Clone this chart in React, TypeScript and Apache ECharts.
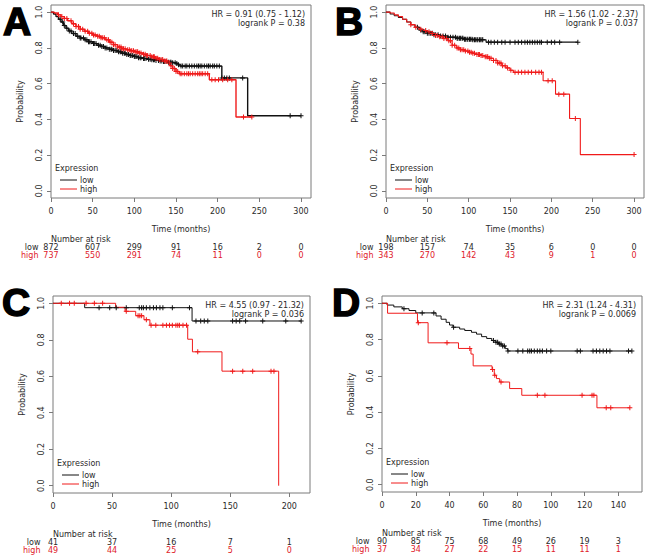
import React, { useEffect, useRef } from "react";
import * as echarts from "echarts";

const FONT = "DejaVu Sans";
const TEXT = "#2a2a2a";
const FRAME = "#7a7a7a";
const BLACK = "#111111";
const RED = "#f01a1a";
const RED_TEXT = "#e0202a";

const yTicks = [0, 0.2, 0.4, 0.6, 0.8, 1.0];

// ---------- Panel A ----------
const aTicks = [0, 50, 100, 150, 200, 250, 300];
const aLowCurve: [number, number][] = [
  [0, 1.0], [3, 0.99], [6, 0.975], [9, 0.96], [12, 0.945], [15, 0.925], [18, 0.91], [21, 0.895],
  [25, 0.88], [30, 0.865], [35, 0.855], [40, 0.845], [45, 0.835], [50, 0.825], [55, 0.815],
  [60, 0.808], [65, 0.8], [70, 0.793], [75, 0.785], [80, 0.778], [85, 0.77], [90, 0.763],
  [95, 0.757], [100, 0.752], [105, 0.745], [110, 0.74], [115, 0.736], [120, 0.733], [125, 0.73],
  [130, 0.727], [135, 0.724], [140, 0.72], [145, 0.717], [150, 0.712], [153, 0.705], [155, 0.698],
  [205, 0.632], [236, 0.42], [300, 0.42],
];
const aHighCurve: [number, number][] = [
  [0, 1.0], [4, 0.995], [8, 0.985], [12, 0.975], [16, 0.965], [20, 0.952], [25, 0.935], [30, 0.92],
  [35, 0.905], [40, 0.893], [45, 0.882], [50, 0.872], [55, 0.865], [60, 0.857], [65, 0.845],
  [70, 0.832], [75, 0.818], [80, 0.805], [85, 0.795], [90, 0.79], [95, 0.784], [100, 0.778],
  [105, 0.772], [110, 0.765], [115, 0.758], [120, 0.75], [125, 0.742], [130, 0.735], [135, 0.727],
  [140, 0.715], [143, 0.7], [146, 0.685], [150, 0.668], [154, 0.655], [190, 0.622], [222, 0.413],
  [241, 0.413],
];
const aLowCensor = [
  11, 14, 16, 19, 22, 24, 27, 29, 32, 35, 36, 39, 41, 43, 45, 46, 48, 51, 52, 54, 57, 59, 61, 63,
  65, 67, 70, 72, 73, 75, 77, 79, 81, 83, 84, 86, 88, 89, 91, 93, 95, 96, 98, 100, 101, 103, 105,
  107, 108, 111, 112, 114, 117, 119, 121, 123, 124, 126, 129, 131, 133, 135, 136, 138, 141, 143,
  144, 146, 149, 151, 153, 156, 158, 161, 163, 166, 169, 172, 175, 177, 179, 181, 184, 187, 189,
  191, 194, 196, 199, 202, 205, 208, 211, 214, 230, 287, 300,
];
const aHighCensor = [
  9, 13, 16, 19, 24, 27, 30, 33, 35, 38, 41, 44, 46, 49, 51, 53, 56, 58, 60, 62, 64, 67, 69, 71,
  73, 75, 77, 80, 82, 84, 85, 87, 89, 92, 94, 96, 97, 99, 101, 103, 104, 106, 108, 111, 113, 115,
  116, 119, 121, 123, 124, 126, 128, 130, 132, 134, 136, 138, 139, 142, 144, 146, 148, 150, 152,
  155, 157, 160, 163, 165, 167, 170, 173, 176, 178, 180, 182, 185, 188, 193, 197, 201, 206, 212,
  217, 231, 241,
];
const aRiskLow = [872, 607, 299, 91, 16, 2, 0];
const aRiskHigh = [737, 550, 291, 74, 11, 0, 0];
const aStats = ["HR = 0.91 (0.75 - 1.12)", "logrank P = 0.38"];

// ---------- Panel B ----------
const bTicks = [0, 50, 100, 150, 200, 250, 300];
const bLowCurve: [number, number][] = [
  [0, 1.0], [5, 0.99], [10, 0.98], [15, 0.97], [20, 0.96], [25, 0.945], [30, 0.93], [35, 0.915],
  [40, 0.9], [45, 0.89], [50, 0.882], [58, 0.873], [65, 0.866], [75, 0.86], [85, 0.854],
  [95, 0.848], [105, 0.845], [121, 0.832], [232, 0.832],
];
const bHighCurve: [number, number][] = [
  [0, 1.0], [5, 0.995], [10, 0.985], [15, 0.975], [20, 0.96], [25, 0.945], [30, 0.93], [35, 0.915],
  [40, 0.905], [45, 0.897], [50, 0.89], [55, 0.88], [60, 0.87], [65, 0.862], [70, 0.852],
  [75, 0.84], [80, 0.815], [85, 0.8], [90, 0.79], [95, 0.783], [100, 0.776], [105, 0.77],
  [110, 0.763], [115, 0.757], [120, 0.75], [125, 0.742], [130, 0.73], [135, 0.715], [140, 0.7],
  [145, 0.688], [150, 0.675], [154, 0.663], [190, 0.616], [205, 0.541], [222, 0.405],
  [235, 0.203], [300, 0.203],
];
const bLowCensor = [
  38, 42, 45, 47, 50, 52, 54, 56, 58, 60, 63, 66, 69, 72, 75, 78, 81, 84, 86, 87, 89, 90, 92, 93,
  95, 96, 98, 99, 101, 102, 104, 105, 107, 108, 110, 111, 113, 114, 116, 117, 124, 127, 131, 135,
  140, 144, 150, 156, 160, 164, 168, 171, 174, 177, 180, 183, 186, 188, 195, 200, 204, 210, 232,
];
const bHighCensor = [
  30, 36, 42, 48, 52, 56, 60, 62, 65, 68, 70, 73, 76, 78, 80, 83, 86, 88, 90, 92, 94, 96, 99, 101,
  103, 105, 107, 110, 112, 113, 115, 117, 120, 122, 123, 125, 127, 130, 133, 135, 137, 139, 141,
  144, 147, 151, 156, 160, 164, 168, 172, 176, 181, 185, 188, 196, 201, 209, 215, 229, 300,
];
const bRiskLow = [198, 157, 74, 35, 6, 0, 0];
const bRiskHigh = [343, 270, 142, 43, 9, 1, 0];
const bStats = ["HR = 1.56 (1.02 - 2.37)", "logrank P = 0.037"];

// ---------- Panel C ----------
const cTicks = [0, 50, 100, 150, 200];
const cLowCurve: [number, number][] = [
  [0, 1.0], [26.8, 0.976], [117.7, 0.903], [210, 0.903],
];
const cHighCurve: [number, number][] = [
  [0, 1.0], [53, 0.978], [61, 0.956], [70, 0.932], [77, 0.91], [82, 0.88], [114, 0.803],
  [118, 0.734], [143, 0.628], [191, 0.0],
];
const cLowCensor = [
  39, 48, 53.5, 62, 73, 75, 76.5, 79, 82, 85, 87.5, 90.5, 93, 101, 115.5, 121, 125, 128, 131, 152,
  155, 158, 163, 177.5, 197, 210,
];
const cHighCensor = [
  7, 14, 18, 28, 35, 42, 62, 72, 73.5, 75, 79, 83, 87, 93, 96, 98.6, 101, 104, 105.6, 107, 110,
  113, 122.5, 152, 160.6, 169, 184.5, 187,
];
const cRiskLow = [41, 37, 16, 7, 1];
const cRiskHigh = [49, 44, 25, 5, 0];
const cStats = ["HR = 4.55 (0.97 - 21.32)", "logrank P = 0.036"];

// ---------- Panel D ----------
const dTicks = [0, 20, 40, 60, 80, 100, 120, 140];
const dLowCurve: [number, number][] = [
  [0, 1.0], [3, 0.99], [7, 0.98], [12, 0.97], [16, 0.96], [20, 0.947], [32, 0.93], [35, 0.912],
  [38, 0.895], [40, 0.88], [42, 0.868], [46, 0.858], [49, 0.85], [53, 0.84], [56, 0.83],
  [59, 0.816], [62, 0.806], [65, 0.795], [67, 0.785], [69, 0.775], [71, 0.765], [73, 0.75],
  [74.5, 0.737], [148, 0.737],
];
const dHighCurve: [number, number][] = [
  [0, 1.0], [3.3, 0.945], [21, 0.893], [27.3, 0.782], [45.3, 0.751], [52.7, 0.72], [54, 0.655],
  [65.2, 0.635], [66.5, 0.603], [67.8, 0.585], [69.7, 0.566], [75.6, 0.53], [82.8, 0.493],
  [127.3, 0.424], [146.8, 0.424],
];
const dLowCensor = [
  13, 23.8, 30.7, 42.4, 66, 67.5, 68.5, 69.5, 70.5, 71.5, 72.5, 74.6, 80.5, 83.4, 86.3, 87.5, 88.5,
  90.2, 92, 93.5, 95, 97.5, 100, 115.6, 117.5, 125, 127, 129, 131, 133, 135, 146, 148,
];
const dHighCensor = [
  21.5, 38.5, 52, 65.5, 66.8, 70.5, 92, 96.5, 118.5, 124.4, 125.5, 132.8, 135.5, 146.8,
];
const dRiskLow = [90, 85, 75, 68, 49, 26, 19, 3];
const dRiskHigh = [37, 34, 27, 22, 15, 11, 11, 1];
const dStats = ["HR = 2.31 (1.24 - 4.31)", "logrank P = 0.0069"];

// ---------- layout ----------
const panels = [
  {
    letter: "A", letterPos: [17, 21], grid: { left: 51, top: 5, width: 260, height: 193 }, xMax: 312,
    ticks: aTicks, low: aLowCurve, high: aHighCurve, lowMarks: aLowCensor, highMarks: aHighCensor,
    riskLow: aRiskLow, riskHigh: aRiskHigh, stats: aStats, lw: 1.4,
  },
  {
    letter: "B", letterPos: [349, 21], grid: { left: 386, top: 5, width: 258, height: 193 }, xMax: 312,
    ticks: bTicks, low: bLowCurve, high: bHighCurve, lowMarks: bLowCensor, highMarks: bHighCensor,
    riskLow: bRiskLow, riskHigh: bRiskHigh, stats: bStats, lw: 1.1,
  },
  {
    letter: "C", letterPos: [16, 302], grid: { left: 53, top: 296, width: 257, height: 197 }, xMax: 217.5,
    ticks: cTicks, low: cLowCurve, high: cHighCurve, lowMarks: cLowCensor, highMarks: cHighCensor,
    riskLow: cRiskLow, riskHigh: cRiskHigh, stats: cStats, lw: 1,
  },
  {
    letter: "D", letterPos: [346, 302], grid: { left: 382, top: 296, width: 260, height: 196 }, xMax: 154,
    ticks: dTicks, low: dLowCurve, high: dHighCurve, lowMarks: dLowCensor, highMarks: dHighCensor,
    riskLow: dRiskLow, riskHigh: dRiskHigh, stats: dStats, lw: 1,
  },
];

const PLUS = "path://M0,4H10V6H0Z M4,0H6V10H4Z";

function survivalAt(curve: [number, number][], t: number): number {
  let v = curve[0][1];
  for (const [x, y] of curve) {
    if (x <= t) v = y;
    else break;
  }
  return v;
}

function buildOption() {
  const grid: any[] = [];
  const xAxis: any[] = [];
  const yAxis: any[] = [];
  const series: any[] = [];
  const graphic: any[] = [];
  const small = { fontFamily: FONT, fontSize: 8, color: TEXT };

  panels.forEach((p, i) => {
    const g = p.grid;
    const bottom = g.top + g.height;
    grid.push({ ...g, show: true, borderColor: FRAME, borderWidth: 1, backgroundColor: "transparent" });

    xAxis.push({
      type: "value", gridIndex: i, min: 0, max: p.xMax, position: "bottom",
      axisLine: { show: false, onZero: false },
      axisTick: { show: true, length: 4, customValues: p.ticks, lineStyle: { color: FRAME } },
      axisLabel: { customValues: p.ticks, margin: 9, ...small },
      splitLine: { show: false },
      name: "Time (months)", nameLocation: "middle", nameGap: 27, nameTextStyle: { ...small },
    });
    [p.riskLow, p.riskHigh].forEach((row, k) => {
      xAxis.push({
        type: "value", gridIndex: i, min: 0, max: p.xMax, position: "bottom",
        offset: k === 0 ? 45 : 53,
        axisLine: { show: false, onZero: false },
        axisTick: { show: false },
        splitLine: { show: false },
        axisLabel: {
          customValues: p.ticks, margin: 0, ...small,
          color: k === 0 ? TEXT : RED_TEXT,
          formatter: (v: number) => String(row[p.ticks.indexOf(v)]),
        },
      });
    });

    yAxis.push({
      type: "value", gridIndex: i, min: -0.04, max: 1.04,
      axisLine: { show: false, onZero: false },
      axisTick: { show: true, length: 4, customValues: yTicks, lineStyle: { color: FRAME } },
      axisLabel: { customValues: yTicks, rotate: 90, margin: 8, ...small, formatter: (v: number) => v.toFixed(1) },
      splitLine: { show: false },
      name: "Probability", nameLocation: "middle", nameGap: 27, nameRotate: 90, nameTextStyle: { ...small },
    });

    const xi = i * 3;
    const lineCommon = {
      type: "line", xAxisIndex: xi, yAxisIndex: i, step: "end", showSymbol: false, symbol: "none",
      silent: true, z: 2,
    };
    series.push({ ...lineCommon, name: "low", data: p.low, lineStyle: { color: BLACK, width: p.lw }, itemStyle: { color: BLACK } });
    series.push({ ...lineCommon, name: "high", data: p.high, lineStyle: { color: RED, width: p.lw }, itemStyle: { color: RED } });
    series.push({
      type: "scatter", xAxisIndex: xi, yAxisIndex: i, symbol: PLUS, symbolSize: 5, silent: true, z: 3,
      data: p.lowMarks.map((t) => [t, survivalAt(p.low, t)]), itemStyle: { color: BLACK, opacity: 1 },
    });
    series.push({
      type: "scatter", xAxisIndex: xi, yAxisIndex: i, symbol: PLUS, symbolSize: 5, silent: true, z: 3,
      data: p.highMarks.map((t) => [t, survivalAt(p.high, t)]), itemStyle: { color: RED, opacity: 1 },
    });

    const txt = (text: string, x: number, y: number, align: string, fill = TEXT) => ({
      type: "text", x, y, silent: true, z: 10,
      style: { text, fill, font: `8px "${FONT}"`, textAlign: align, textVerticalAlign: "middle" },
    });
    const right = g.left + g.width - 6;
    graphic.push(txt(p.stats[0], right, g.top + 9.5, "right"));
    graphic.push(txt(p.stats[1], right, g.top + 18.5, "right"));
    graphic.push(txt("Expression", g.left + 4, bottom - 29.5, "left"));
    graphic.push({ type: "line", silent: true, z: 10, shape: { x1: g.left + 9, y1: bottom - 18, x2: g.left + 26, y2: bottom - 18 }, style: { stroke: BLACK, lineWidth: 1 } });
    graphic.push({ type: "line", silent: true, z: 10, shape: { x1: g.left + 9, y1: bottom - 9, x2: g.left + 26, y2: bottom - 9 }, style: { stroke: RED, lineWidth: 1 } });
    graphic.push(txt("low", g.left + 29, bottom - 18, "left"));
    graphic.push(txt("high", g.left + 29, bottom - 9, "left"));
    graphic.push(txt("Number at risk", g.left, bottom + 41, "left"));
    graphic.push(txt("low", g.left - 12.5, bottom + 49.3, "right"));
    graphic.push(txt("high", g.left - 12.5, bottom + 57.5, "right", RED_TEXT));
    graphic.push({
      type: "text", x: p.letterPos[0], y: p.letterPos[1], silent: true, z: 10,
      style: {
        text: p.letter, fill: "#000", stroke: "#000", lineWidth: 1.5,
        font: 'bold 39px "Liberation Sans"', textAlign: "center", textVerticalAlign: "middle",
      },
    });
  });

  return {
    animation: false,
    backgroundColor: "#ffffff",
    grid, xAxis, yAxis, series, graphic,
  };
}

export default function App() {
  const ref = useRef<HTMLDivElement>(null);
  useEffect(() => {
    if (!ref.current) return;
    const chart = echarts.init(ref.current, null, { renderer: "svg" });
    chart.setOption(buildOption() as any);
    return () => chart.dispose();
  }, []);
  return (
    <div
      ref={ref}
      style={{ position: "fixed", left: 0, top: 0, width: 646, height: 560, background: "#fff" }}
    />
  );
}
